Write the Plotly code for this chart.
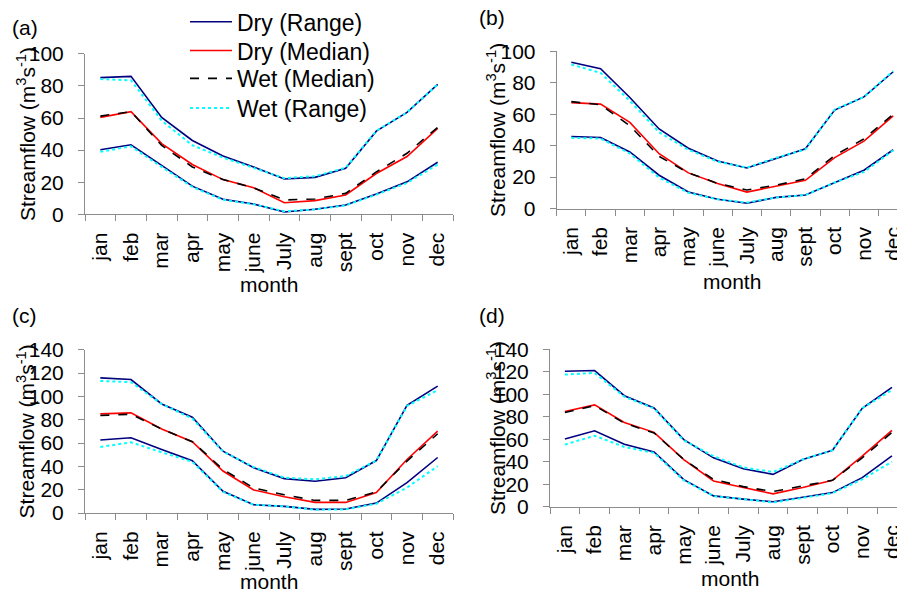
import plotly.graph_objects as go

W, H = 897, 596

months = ["jan", "feb", "mar", "apr", "may", "june", "July", "aug", "sept", "oct", "nov", "dec"]

# Panel (a)
a_dry_hi = [85.2, 86.0, 60.4, 46.0, 36.3, 29.5, 22.0, 23.0, 28.7, 51.8, 63.5, 81.0]
a_dry_lo = [40.2, 43.3, 30.5, 17.5, 9.3, 6.4, 1.4, 3.1, 5.8, 12.6, 20.2, 32.4]
a_dry_med = [60.4, 64.0, 44.0, 31.0, 21.6, 16.5, 7.2, 8.5, 12.0, 25.4, 36.0, 53.6]
a_wet_med = [61.2, 64.0, 43.0, 29.5, 21.6, 16.5, 8.9, 9.5, 13.0, 26.4, 38.0, 54.2]
a_wet_hi = [84.3, 83.5, 58.4, 43.0, 35.3, 29.0, 22.5, 23.7, 29.0, 52.0, 63.5, 81.0]
a_wet_lo = [39.0, 42.3, 29.5, 17.0, 9.0, 6.2, 1.8, 3.0, 5.5, 12.2, 19.5, 31.0]

# Panel (b)
b_dry_hi = [93.0, 89.0, 70.6, 50.6, 38.4, 30.2, 25.8, 32.0, 38.0, 62.6, 71.0, 87.0]
b_dry_lo = [45.8, 45.2, 36.0, 21.2, 10.5, 5.9, 3.4, 7.1, 8.6, 16.6, 24.4, 37.4]
b_dry_med = [67.4, 66.4, 54.8, 34.9, 22.7, 16.0, 10.5, 14.3, 18.0, 32.4, 42.9, 59.0]
b_wet_med = [68.0, 66.0, 52.7, 33.2, 22.7, 16.0, 11.8, 14.9, 18.9, 33.8, 44.3, 60.0]
b_wet_hi = [91.6, 86.3, 68.5, 48.5, 37.4, 29.8, 26.0, 32.3, 37.6, 63.0, 71.0, 87.4]
b_wet_lo = [45.0, 44.5, 35.0, 19.7, 10.0, 5.9, 3.8, 7.1, 8.6, 16.6, 23.3, 37.0]

# Panel (c)
c_dry_hi = [115.9, 114.5, 93.5, 82.2, 53.0, 38.8, 29.5, 27.2, 30.3, 45.0, 92.4, 108.8]
c_dry_lo = [62.6, 64.6, 54.4, 44.8, 18.7, 7.1, 5.7, 3.1, 3.4, 8.5, 26.0, 47.6]
c_dry_med = [85.0, 85.9, 72.0, 61.2, 36.0, 19.8, 13.9, 9.1, 9.1, 17.6, 45.9, 70.3]
c_wet_med = [83.6, 84.7, 72.0, 61.2, 37.4, 21.5, 15.6, 10.8, 10.8, 18.1, 44.5, 68.0]
c_wet_hi = [113.3, 112.2, 93.5, 81.0, 52.7, 39.4, 30.3, 28.9, 31.7, 45.0, 91.8, 105.4]
c_wet_lo = [56.7, 60.6, 52.1, 43.9, 18.1, 7.1, 5.7, 2.8, 3.1, 7.9, 21.8, 40.2]

# Panel (d)
d_dry_hi = [120.6, 121.2, 98.8, 87.9, 59.7, 43.5, 33.8, 28.8, 42.0, 50.3, 87.6, 106.2]
d_dry_lo = [60.3, 67.6, 55.6, 48.8, 24.1, 9.7, 6.8, 4.4, 8.5, 12.6, 25.9, 45.3]
d_dry_med = [84.7, 90.6, 75.0, 66.2, 42.0, 22.9, 17.1, 11.5, 17.1, 23.5, 45.0, 67.9]
d_wet_med = [83.8, 90.0, 74.4, 65.6, 42.0, 24.4, 17.9, 13.5, 18.5, 23.5, 43.5, 66.2]
d_wet_hi = [117.6, 119.1, 97.9, 87.4, 59.1, 45.0, 35.0, 30.9, 42.0, 50.3, 87.6, 103.8]
d_wet_lo = [55.3, 63.2, 53.2, 47.9, 23.5, 9.4, 6.8, 3.8, 7.9, 12.1, 24.4, 40.0]

panels = [
    ("(a)", a_dry_hi, a_dry_lo, a_dry_med, a_wet_med, a_wet_hi, a_wet_lo),
    ("(b)", b_dry_hi, b_dry_lo, b_dry_med, b_wet_med, b_wet_hi, b_wet_lo),
    ("(c)", c_dry_hi, c_dry_lo, c_dry_med, c_wet_med, c_wet_hi, c_wet_lo),
    ("(d)", d_dry_hi, d_dry_lo, d_dry_med, d_wet_med, d_wet_hi, d_wet_lo),
]

# layout geometry in pixels: (x0, x1 of axis, y_top, y_bottom, ymax, x range end)
geom = [
    (85.0, 453.0, 49.3, 211.0, 100, 11.5),
    (556.7, 897.0, 46.7, 205.3, 100, 11.13),
    (85.0, 453.0, 347.7, 512.3, 140, 11.5),
    (550.0, 897.0, 347.3, 506.0, 140, 11.17),
]
title_x = [26, 496, 26, 496]
label_pos = [(10, 23), (477, 13), (10, 313), (477, 313)]
month_pos = [(269, 282), (732, 279), (269, 581), (730, 578)]
legend_rows = [17, 46, 74, 104]

FONT = "Liberation Sans, Arial, sans-serif"
NAVY = "#00007f"
RED = "#ff0000"
CYAN = "#00ffff"

def px(x):
    return x / W

def py(y):
    return 1 - y / H

fig = go.Figure()
annotations = []
layout = {}
legend_ids = ["legend", "legend2", "legend3", "legend4"]

for i, (lab, dhi, dlo, dmed, wmed, whi, wlo) in enumerate(panels):
    n = "" if i == 0 else str(i + 1)
    xa, ya = "x" + n, "y" + n
    first = i == 0
    fig.add_trace(go.Scatter(x=months, y=dhi, mode="lines", name="Dry (Range)", legendgroup="dr", legend="legend",
                             showlegend=first, line=dict(color=NAVY, width=1.6), xaxis=xa, yaxis=ya))
    fig.add_trace(go.Scatter(x=months, y=dmed, mode="lines", name="Dry (Median)", legendgroup="dm", legend="legend2",
                             showlegend=first, line=dict(color=RED, width=1.6), xaxis=xa, yaxis=ya))
    fig.add_trace(go.Scatter(x=months, y=wmed, mode="lines", name="Wet (Median)", legendgroup="wm", legend="legend3",
                             showlegend=first, line=dict(color="black", width=1.6, dash="dash"), xaxis=xa, yaxis=ya))
    fig.add_trace(go.Scatter(x=months, y=whi, mode="lines", name="Wet (Range)", legendgroup="wr", legend="legend4",
                             showlegend=first, line=dict(color=CYAN, width=2, dash="dot"), xaxis=xa, yaxis=ya))
    fig.add_trace(go.Scatter(x=months, y=dlo, mode="lines", name="Dry (Range)", legendgroup="dr", legend="legend",
                             showlegend=False, line=dict(color=NAVY, width=1.6), xaxis=xa, yaxis=ya))
    fig.add_trace(go.Scatter(x=months, y=wlo, mode="lines", name="Wet (Range)", legendgroup="wr", legend="legend4",
                             showlegend=False, line=dict(color=CYAN, width=2, dash="dot"), xaxis=xa, yaxis=ya))

    x0, x1, yt, yb, ymax, xr = geom[i]
    layout["xaxis" + n] = dict(
        type="category", domain=[px(x0), px(x1)], anchor=ya, range=[-0.5, xr], automargin=False,
        tickson="boundaries", ticks="outside", ticklen=6, tickcolor="#8c8c8c",
        showline=True, linecolor="#8c8c8c", linewidth=1, showgrid=False, zeroline=False,
        tickangle=-90, tickfont=dict(family=FONT, size=21, color="black"),
        ticklabelstandoff=9,
    )
    layout["yaxis" + n] = dict(
        domain=[py(yb), py(yt)], anchor=xa, range=[0, ymax], dtick=20, automargin=False,
        ticks="outside", ticklen=6, tickcolor="#8c8c8c",
        showline=True, linecolor="#8c8c8c", linewidth=1, showgrid=False, zeroline=False,
        tickfont=dict(family=FONT, size=21, color="black"), ticklabelstandoff=10,
    )
    annotations.append(dict(
        text="Streamflow (m<sup>3</sup>s<sup>-1</sup>)", textangle=-90, xref="paper", yref="paper",
        x=px(title_x[i]), y=py((yt + yb) / 2), xanchor="center", yanchor="middle", showarrow=False,
        font=dict(family=FONT, size=21, color="black"),
    ))
    lx, ly = label_pos[i]
    annotations.append(dict(
        text=lab, xref="paper", yref="paper", x=px(lx), y=py(ly), xanchor="left", yanchor="middle",
        showarrow=False, font=dict(family=FONT, size=21, color="black"),
    ))
    mx, my = month_pos[i]
    annotations.append(dict(
        text="month", xref="paper", yref="paper", x=px(mx), y=py(my), xanchor="center", yanchor="middle",
        showarrow=False, font=dict(family=FONT, size=21, color="black"),
    ))

for lid, ry in zip(legend_ids, legend_rows):
    layout[lid] = dict(x=px(185), y=py(ry), xanchor="left", yanchor="middle", bgcolor="rgba(0,0,0,0)",
                       font=dict(family=FONT, size=23, color="black"), itemwidth=42)

fig.update_layout(
    width=W, height=H, margin=dict(l=0, r=0, t=0, b=0),
    paper_bgcolor="white", plot_bgcolor="white",
    font=dict(family=FONT, size=21, color="black"),
    annotations=annotations,
    **layout,
)

fig.write_html("out.html", config={"displayModeBar": False},
               post_script="document.body.style.margin='0';document.body.style.padding='0';")
